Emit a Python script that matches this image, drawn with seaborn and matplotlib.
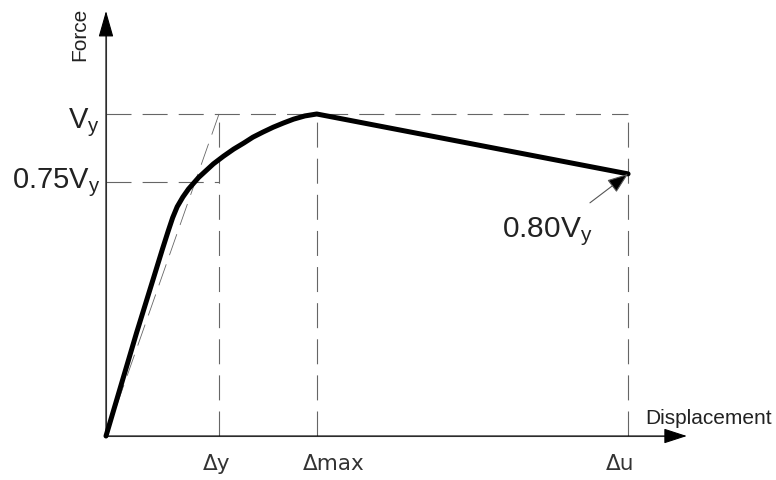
import matplotlib
matplotlib.use("Agg")
import matplotlib.pyplot as plt
import seaborn as sns

# displacement in units of delta_y, force in units of Vy
DISP = [0, 0.27, 0.42, 0.50, 0.55, 0.59, 0.63, 0.68, 0.73, 0.82, 0.95, 1.04, 1.13, 1.22,
        1.30, 1.39, 1.48, 1.57, 1.66, 1.76, 1.865, 4.62]
FORCE = [0, 0.32, 0.49, 0.581, 0.636, 0.678, 0.712, 0.742, 0.767, 0.803, 0.845, 0.869, 0.891, 0.910,
         0.928, 0.944, 0.959, 0.972, 0.984, 0.994, 1.0, 0.814]

DELTA_Y = 1.0
DELTA_MAX = 1.865
DELTA_U = 4.62
V_Y = 1.0
V_075 = 0.79
V_END = 0.814

X_TICKS = [DELTA_Y, DELTA_MAX, DELTA_U]
X_TICK_LABELS = ["Δy", "Δmax", "Δu"]
Y_TICKS = [V_Y, V_075]
Y_TICK_LABELS = [r"$\mathregular{V_y}$", r"$\mathregular{0.75V_y}$"]

sns.set_theme(style="white")
plt.rcParams["font.family"] = ["Liberation Sans", "DejaVu Sans"]
plt.rcParams["mathtext.fontset"] = "custom"
plt.rcParams["mathtext.rm"] = "Liberation Sans"
plt.rcParams["lines.scale_dashes"] = False

fig = plt.figure(figsize=(7.76, 4.81), dpi=100)
ax = fig.add_axes([0, 0, 1, 1])
ax.set_xlim(-0.938, 5.929)
ax.set_ylim(-0.1366, 1.3571)
ax.set_axis_off()

guide = dict(color="#666666", linewidth=0.8, linestyle=(0, (18, 8)))

# guide lines
ax.plot([0, DELTA_U], [V_Y, V_Y], **guide)
ax.plot([0, DELTA_Y], [V_075, V_075], **guide)
for xv in X_TICKS:
    ax.plot([xv, xv], [0, V_Y], **guide)
ax.plot([0, DELTA_Y], [0, V_Y], color="#666666", linewidth=0.6, linestyle=(0, (16, 7)))

# axes with arrows
ax.annotate("", xy=(0, 1.32), xytext=(0, 0),
            arrowprops=dict(arrowstyle="-|>,head_length=16.5,head_width=4.7", mutation_scale=1,
                            fc="black", ec="black", lw=0.8, shrinkA=0, shrinkB=0))
ax.annotate("", xy=(5.14, 0), xytext=(0, 0),
            arrowprops=dict(arrowstyle="-|>,head_length=14.5,head_width=4.7", mutation_scale=1,
                            fc="black", ec="black", lw=0.8, shrinkA=0, shrinkB=0))
ax.plot([0, 0], [0, 1.25], color="#666666", linewidth=0.8)
ax.plot([0, 5.0], [0, 0], color="#666666", linewidth=0.8)

# capacity curve
sns.lineplot(x=DISP, y=FORCE, sort=False, color="black", linewidth=3.6, ax=ax,
             solid_joinstyle="round", solid_capstyle="round")

# labels
ax.text(-0.23, 1.2516, "Force", rotation=90, ha="center", va="center", fontsize=15, color="#222222")
ax.text(4.77, 0.059, "Displacement", ha="left", va="center", fontsize=15, color="#222222")

for yv, lab in zip(Y_TICKS, Y_TICK_LABELS):
    base = 0.96 if yv == V_Y else 0.773
    ax.text(-0.053, base, lab, ha="right", va="baseline", fontsize=21, color="#222222")

x_offsets = [-2, 12, -6]
for xv, lab, off in zip(X_TICKS, X_TICK_LABELS, x_offsets):
    ax.annotate(lab, xy=(xv, -0.083), xytext=(off, 0), textcoords="offset points",
                ha="center", va="center", fontsize=15.5, color="#333333", family="DejaVu Sans")

ax.annotate(r"$\mathregular{0.80V_y}$", xy=(DELTA_U, V_END), xytext=(3.504, 0.621),
            ha="left", va="baseline", fontsize=21.5, color="#222222",
            arrowprops=dict(arrowstyle="-|>,head_length=13,head_width=4.8", mutation_scale=1,
                            fc="black", ec="#555555", lw=0.8, shrinkA=0, shrinkB=0,
                            relpos=(0.97, 1.35)))

fig.savefig("out.png", dpi=100)
